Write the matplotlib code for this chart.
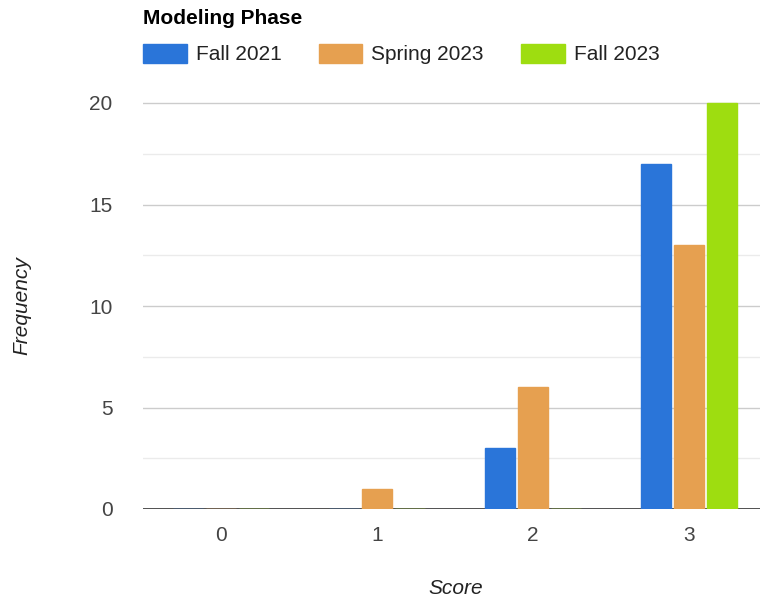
import matplotlib
matplotlib.use('Agg')
import matplotlib.pyplot as plt
import numpy as np

plt.rcParams['font.family'] = ['Liberation Sans', 'DejaVu Sans']

# Data
scores = [0, 1, 2, 3]
series_names = ['Fall 2021', 'Spring 2023', 'Fall 2023']
fall_2021 = [0, 0, 3, 17]
spring_2023 = [0, 1, 6, 13]
fall_2023 = [0, 0, 0, 20]
y_ticks = [0, 5, 10, 15, 20]

colors = ['#2a75d9', '#e6a050', '#9edd10']

W, H = 760, 601
fig = plt.figure(figsize=(W / 100, H / 100), dpi=100)

# plot area in pixels: left 143, baseline 509, 1 unit = 20.3 px
ymax = 20.3
px_per_unit = 20.3
left, base = 143, 509
top = base - ymax * px_per_unit
ax = fig.add_axes([left / W, (H - base) / H, (W - left) / W, (base - top) / H])

x = np.arange(len(scores))
bar_w = 0.197
step = 0.211
for i, (vals, name, c) in enumerate(zip([fall_2021, spring_2023, fall_2023], series_names, colors)):
    ax.bar(x + (i - 1) * step, vals, width=bar_w, color=c, edgecolor=c,
           linewidth=1.0, label=name, zorder=2, alpha=1.0)

# x range: categories are 156 px apart, chart cut at the right edge
ax.set_xlim(-0.5, -0.5 + (W - left) / 156)
ax.set_ylim(0, ymax)

# gridlines
for yv in np.arange(2.5, 20.1, 5):
    ax.axhline(yv, color='#ebebeb', lw=1, zorder=0)
for yv in y_ticks[1:]:
    ax.axhline(yv, color='#cccccc', lw=1, zorder=0)
ax.axhline(0, color='#333333', lw=1.2, zorder=1)

ax.set_yticks(y_ticks)
ax.set_xticks(x)
ax.set_xticklabels([str(s) for s in scores])
ax.tick_params(axis='both', length=0, labelsize=15, colors='#444444')
ax.tick_params(axis='y', pad=22)
ax.tick_params(axis='x', pad=12)
for s in ax.spines.values():
    s.set_visible(False)

fig.text(456 / W, 1 - 588 / H, 'Score', fontsize=15, style='italic',
         color='#222222', ha='center', va='center')
fig.text(22 / W, 1 - 306 / H, 'Frequency', fontsize=15, style='italic',
         color='#222222', ha='center', va='center', rotation=90)
fig.text(143 / W, 1 - 18 / H, 'Modeling Phase', fontsize=15, fontweight='bold',
         color='#000000', ha='left', va='center')

handles, labels = ax.get_legend_handles_labels()
leg = fig.legend(handles, labels, loc='upper left', ncol=3,
                 bbox_to_anchor=(143 / W, 1 - 44 / H), frameon=False,
                 fontsize=15, handlelength=2.1, handleheight=1.0,
                 handletextpad=0.43, columnspacing=1.78,
                 borderpad=0, borderaxespad=0)
for t in leg.get_texts():
    t.set_color('#222222')

fig.savefig('out.png', dpi=100)
